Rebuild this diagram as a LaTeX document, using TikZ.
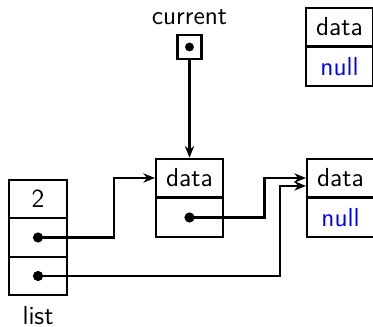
\documentclass[tikz,border=0pt]{standalone}
\usepackage{tikz}
\usetikzlibrary{arrows.meta}
\renewcommand{\familydefault}{\sfdefault}

\begin{document}
\begin{tikzpicture}[x=0.43pt,y=-0.43pt,font=\fontsize{11.2}{13}\selectfont,
	cell/.style={draw,line width=0.9pt,minimum height=16.6pt,inner sep=0pt},
	dot/.style={circle,fill,inner sep=0pt,minimum size=4.4pt},
	ptr/.style={line width=0.9pt,-{Stealth[length=5pt,width=4pt]}}]
		\useasboundingbox (0,0) rectangle (373,327);
		% list header
		\node[cell,minimum width=25pt] (l1) at (38, 199){2};
		\node[cell,minimum width=25pt] (l2) at (38, 237.5){};
		\node[cell,minimum width=25pt] (l3) at (38, 276){};
		\node (listlbl) at (38, 316){list};
		\node[dot] (l2dot) at (l2.center){};
		\node[dot] (l3dot) at (l3.center){};
		% current pointer
		\node[draw,line width=0.9pt,minimum size=10.3pt,inner sep=0pt] (cur) at (189.5, 47){};
		\node[dot,minimum size=3.8pt] (curdot) at (cur.center){};
		\node (curlbl) at (189.5, 17){current};
		% nodes
		\node[cell,minimum width=28.8pt] (m1) at (189.5, 178){data};
		\node[cell,minimum width=28.8pt] (m2) at (189.5, 217.5){};
		\node[dot] (m2dot) at (m2.center){};
		\node[cell,minimum width=28.8pt] (r1) at (340.5, 178){data};
		\node[cell,minimum width=28.8pt,text=blue] (r2) at (340.5, 217.5){null};
		\node[cell,minimum width=28.8pt] (t1) at (339.5, 27){data};
		\node[cell,minimum width=28.8pt,text=blue] (t2) at (339.5, 66.5){null};
		% links
		\draw[ptr] (cur.south) -- (m1.north);
		\draw[ptr] (l2dot.center) -- ++(76,0) |- (m1.west);
		\draw[ptr] (m2dot.center) -- ++(75,0) |- (r1.west);
		\draw[ptr] (l3dot.center) -- ++(242,0) |- ([yshift=-3.4pt]r1.west);
\end{tikzpicture}
\end{document}
